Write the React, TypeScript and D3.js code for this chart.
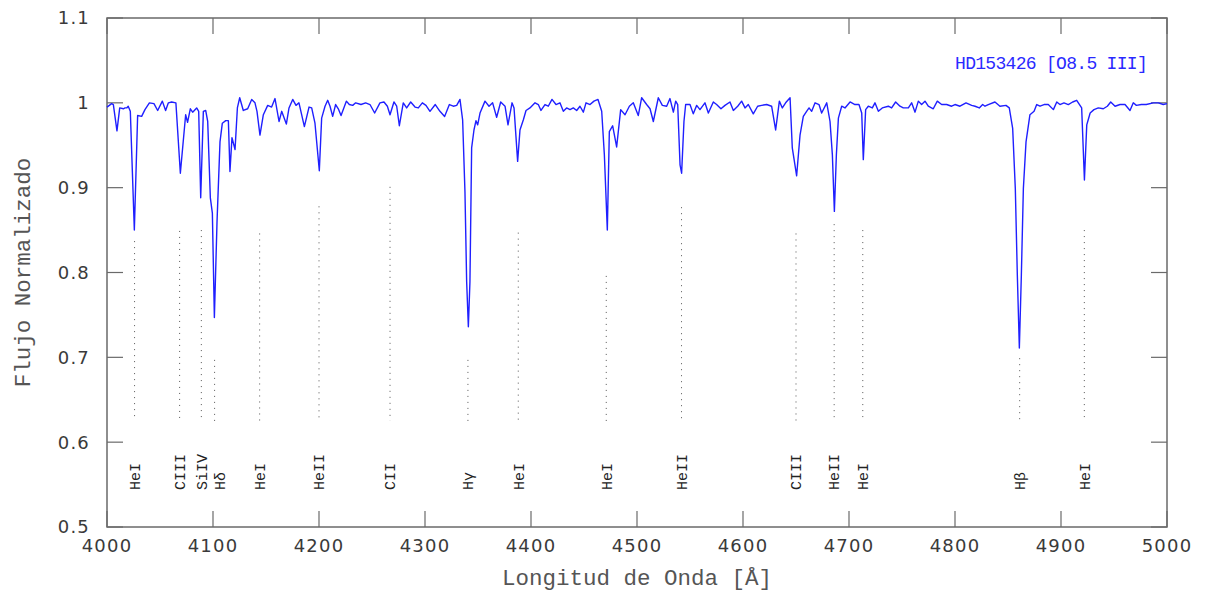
import React from "react";
import * as d3 from "d3";

const spectrum: [number, number][] = [
  [4000,0.995],[4004.4,0.999],[4006,0.998],[4009.4,0.967],[4012,0.994],[4015.4,0.993],[4017,0.994],[4018.6,0.994],[4020,0.996],[4022,0.990],[4025.8,0.850],[4028.9,0.985],[4032.7,0.984],[4035.8,0.992],[4040,1.0],[4044.3,0.999],[4047.8,0.991],[4052.2,1.002],[4055.3,0.991],[4057.9,1.0],[4061,1.001],[4065,1.0],[4069.2,0.917],[4074.2,0.986],[4076,0.977],[4078.6,0.993],[4080.8,0.989],[4084.6,0.994],[4086.5,0.990],[4088.4,0.888],[4090.9,0.990],[4093.1,0.991],[4095,0.978],[4097.5,0.888],[4099.4,0.870],[4101.3,0.747],[4103.8,0.860],[4106.6,0.954],[4108.8,0.976],[4112,0.979],[4114.5,0.979],[4116,0.919],[4117.9,0.959],[4120.8,0.945],[4123,0.994],[4125.2,1.006],[4128.6,0.991],[4132.7,0.993],[4136.5,1.004],[4139.6,1.0],[4141.5,0.990],[4144.3,0.962],[4147.5,0.986],[4151.6,0.997],[4155.3,0.995],[4158.5,1.005],[4162.3,0.978],[4164.8,0.990],[4169.2,0.975],[4171.7,0.994],[4175.2,1.004],[4178.3,0.997],[4181.1,1.0],[4186.2,0.972],[4190.6,0.995],[4193.1,0.994],[4196.2,0.976],[4200.3,0.920],[4202.5,0.982],[4205.7,0.996],[4208.2,1.003],[4210.4,0.996],[4212.9,0.984],[4215.7,0.998],[4218.2,0.993],[4220.8,0.985],[4225.8,1.002],[4228.6,0.998],[4231.8,0.997],[4234.6,1.0],[4239.6,0.998],[4244,1.0],[4248.1,0.998],
  [4252.5,0.988],[4257.5,1.0],[4261.3,1.001],[4264.5,0.996],[4267,0.986],[4270.7,1.001],[4273.3,0.996],[4275.8,0.973],[4279.5,1.0],[4282.7,0.994],[4286.5,1.001],[4290.6,0.995],[4293.7,0.994],[4297.5,1.0],[4300.9,0.997],[4304.7,0.990],[4309.7,0.998],[4314.1,0.990],[4318.5,0.984],[4323,0.998],[4326.7,0.996],[4329.9,0.997],[4333,1.004],[4335.5,0.980],[4337.7,0.895],[4339.3,0.789],[4340.9,0.736],[4342.4,0.789],[4344,0.947],[4346.2,0.968],[4348.1,0.979],[4349.7,0.974],[4351.9,0.988],[4356.6,1.002],[4360.4,0.996],[4363.8,1.0],[4367.6,0.983],[4371.4,1.001],[4375.5,0.996],[4378.3,0.974],[4382.1,1.0],[4384,0.994],[4387.4,0.931],[4389.6,0.968],[4392.8,0.980],[4395.3,0.991],[4399,0.994],[4403.8,1.0],[4406.9,0.998],[4409.4,0.991],[4413.2,0.998],[4416.3,0.996],[4419.8,1.004],[4423.6,0.998],[4427.3,1.0],[4430.5,0.990],[4433.6,0.994],[4436.8,0.992],[4439.9,0.994],[4443.1,0.991],[4446.2,0.996],[4449.4,0.989],[4451.9,1.0],[4455.7,0.998],[4459.4,1.002],[4463.2,1.004],[4466.7,0.990],[4469.2,0.939],[4472,0.850],[4473.9,0.966],[4477,0.973],[4480.8,0.948],[4484.6,0.992],[4488.7,0.986],[4492.8,0.996],[4496.5,1.0],
  [4501.2,0.985],[4504.4,1.006],[4509.1,0.998],[4512.3,0.993],[4515.4,0.978],[4520.1,1.006],[4523.9,0.997],[4528,0.996],[4531.1,1.005],[4534.3,0.989],[4536.5,1.002],[4538.4,0.998],[4540.6,0.927],[4542.1,0.917],[4544.3,0.978],[4545.9,0.998],[4550,0.998],[4553.1,0.987],[4556.3,0.997],[4559.4,0.992],[4564.1,1.0],[4567.3,0.988],[4572,1.001],[4575.1,0.998],[4579.2,0.993],[4583,0.997],[4587.7,1.001],[4590.9,0.991],[4595,0.996],[4598.7,1.002],[4601.9,0.994],[4605,0.998],[4609.7,0.987],[4613.8,0.996],[4617.6,0.997],[4622.3,0.998],[4627,0.996],[4630.8,0.968],[4634.3,1.002],[4637.1,0.994],[4640.2,1.0],[4644.4,1.006],[4646.5,0.947],[4650.6,0.914],[4653.8,0.962],[4656.9,0.984],[4660,0.990],[4662.3,0.994],[4664.8,0.990],[4668,1.0],[4671.7,0.998],[4674.2,0.988],[4679,1.0],[4682.1,0.978],[4684.3,0.939],[4686.2,0.872],[4688.1,0.939],[4690,0.982],[4693.1,0.996],[4696.2,0.994],[4701,1.001],[4705.6,0.998],[4709.4,0.998],[4712,0.988],[4713.5,0.933],[4715.7,0.992],[4718.2,0.996],[4722,0.994],[4724.5,1.0],[4727.7,0.990],[4731.4,0.994],[4737.1,0.996],[4740.2,0.994],[4744,1.001],[4748.1,0.996],
  [4751.2,0.994],[4756,0.994],[4759.1,1.0],[4762.3,0.989],[4765.4,1.002],[4768.5,0.998],[4771.7,1.002],[4774.8,0.996],[4779.5,0.993],[4783.3,1.002],[4787.4,0.998],[4792.1,0.998],[4796.8,0.996],[4800,0.998],[4804.7,0.996],[4810.4,1.0],[4815.7,0.997],[4818.9,0.996],[4822.9,0.994],[4826.1,0.998],[4828.3,0.996],[4831.4,0.998],[4837.7,1.001],[4842.4,0.996],[4848.1,0.997],[4851.2,0.994],[4854.4,0.970],[4856.9,0.899],[4858.8,0.797],[4860.7,0.711],[4862.6,0.797],[4864.5,0.899],[4867,0.954],[4870.7,0.986],[4874.6,0.990],[4877.1,0.998],[4880.2,0.996],[4884,0.998],[4888,0.998],[4892.8,0.992],[4896,1.001],[4899,0.998],[4902.8,1.0],[4906.9,0.998],[4911,1.001],[4914.8,1.003],[4919.5,0.994],[4922.1,0.909],[4924.3,0.974],[4927.5,0.988],[4931.1,0.992],[4935.2,0.994],[4939.9,0.993],[4943.7,0.996],[4946.9,1.001],[4951,0.996],[4955.7,0.998],[4960.4,0.998],[4965.1,0.991],[4968.2,1.0],[4971.1,0.997],[4975.8,0.998],[4980.4,0.998],[4987.1,1.0],[4991.8,1.0],[4996.5,0.998],[5000,0.999],
];

const lineNames = ["HeI","CIII","SiIV","Hδ","HeI","HeII","CII","Hγ","HeI","HeI","HeII","CIII","HeII","HeI","Hβ","HeI"];
const lineWaves = [4026,4068.5,4089,4101.5,4144,4200,4267,4340.5,4388,4471,4542,4650,4686,4713,4861,4922];
const lineTops = [0.837,0.849,0.85,0.697,0.846,0.878,0.901,0.697,0.847,0.796,0.877,0.846,0.857,0.85,0.699,0.85];
const lineBottom = 0.625;

const xTicks = [4000,4100,4200,4300,4400,4500,4600,4700,4800,4900,5000];
const yTicks = [0.5,0.6,0.7,0.8,0.9,1,1.1];

const starLabel = "HD153426 [O8.5 III]";
const xTitle = "Longitud de Onda [Å]";
const yTitle = "Flujo Normalizado";

export default function App() {
  const W = 1207, H = 593;
  const L = 107, R = 1167, T = 18, B = 527;
  const x = d3.scaleLinear().domain([4000, 5000]).range([L, R]);
  const y = d3.scaleLinear().domain([0.5, 1.1]).range([B, T]);
  const line = d3.line<[number, number]>().x(d => x(d[0])).y(d => y(d[1]));
  const axisColor = "#6a6a6a";
  const tickLen = 16;
  const mono = "'Liberation Mono', 'DejaVu Sans Mono', monospace";
  const sans = "'DejaVu Sans', sans-serif";
  const fmtY = (v: number) => (v === 1 ? "1" : d3.format(".1f")(v));

  return (
    <svg width={W} height={H} style={{ position: "absolute", left: 0, top: 0, background: "#fff" }}>
      {xTicks.map(t => (
        <g key={"xt" + t}>
          <line x1={x(t)} x2={x(t)} y1={B} y2={B - tickLen} stroke={axisColor} strokeWidth={1.2} />
          <line x1={x(t)} x2={x(t)} y1={T} y2={T + tickLen} stroke={axisColor} strokeWidth={1.2} />
          <text x={x(t)} y={552} textAnchor="middle" fontFamily={sans} fontSize={18} letterSpacing={1.2} fill="#3a3a3a">{t}</text>
        </g>
      ))}
      {yTicks.map(t => (
        <g key={"yt" + t}>
          <line x1={L} x2={L + tickLen} y1={y(t)} y2={y(t)} stroke={axisColor} strokeWidth={1.2} />
          <line x1={R} x2={R - tickLen} y1={y(t)} y2={y(t)} stroke={axisColor} strokeWidth={1.2} />
          <text x={90} y={y(t)} dy="0.36em" textAnchor="end" fontFamily={sans} fontSize={18} letterSpacing={1.2} fill="#3a3a3a">{fmtY(t)}</text>
        </g>
      ))}
      <rect x={L} y={T} width={R - L} height={B - T} fill="none" stroke={axisColor} strokeWidth={1.5} />

      {lineWaves.map((w, i) => (
        <line key={"ld" + i} x1={x(w)} x2={x(w)} y1={y(lineTops[i])} y2={y(lineBottom)}
          stroke="#555" strokeWidth={1} strokeDasharray="1,5" />
      ))}
      {lineWaves.map((w, i) => {
        const lx = x(w) + (lineNames[i] === "Hδ" ? 5 : 0);
        return (
          <text key={"ll" + i} transform={`translate(${lx},490) rotate(-90)`} dy="0.35em"
            fontFamily={mono} fontSize={15} fill="#222">{lineNames[i]}</text>
        );
      })}

      <path d={line(spectrum) || ""} fill="none" stroke="#1f1fff" strokeWidth={1.4} strokeLinejoin="round" />

      <text x={1147} y={69} textAnchor="end" fontFamily={mono} fontSize={18} letterSpacing={-0.7} fill="#2a2aff">{starLabel}</text>

      <text x={(L + R) / 2} y={585} textAnchor="middle" fontFamily={mono} fontSize={22.5} fill="#555">{xTitle}</text>
      <text transform={`translate(30,${(T + B) / 2}) rotate(-90)`} textAnchor="middle" fontFamily={mono} fontSize={22.5} fill="#555">{yTitle}</text>
    </svg>
  );
}
